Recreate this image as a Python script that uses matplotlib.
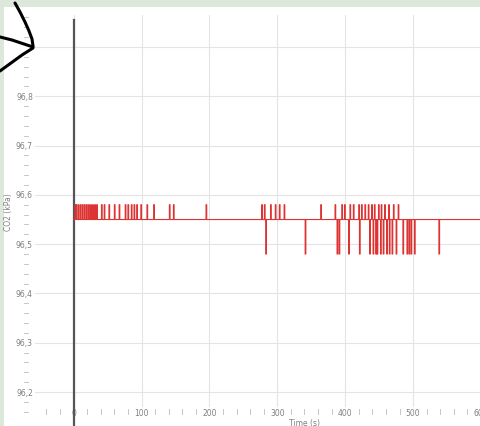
import numpy as np
import matplotlib
matplotlib.use("Agg")
import matplotlib.pyplot as plt
from matplotlib.lines import Line2D
from matplotlib.patches import Rectangle

# CO2 sensor readings: steady level with short one-sample jumps
base_kpa = 96.55
high_kpa = 96.58
low_kpa = 96.48
duration_s = 600
up_times = [2, 4, 7, 10, 13, 16, 19, 22, 25, 28, 31, 34, 41, 45, 52, 60, 67, 76,
            80, 85, 89, 93, 99, 108, 118, 141, 147, 195, 277, 281, 290, 297, 303,
            310, 364, 385, 395, 399, 407, 412, 420, 424, 429, 434, 439, 443, 449,
            453, 458, 464, 471, 478]
down_times = [283, 341, 388, 391, 405, 421, 436, 441, 445, 447, 452, 456, 461,
              465, 469, 475, 485, 491, 494, 497, 502, 538]

x_major = [0, 100, 200, 300, 400, 500, 600]
y_major = [96.2, 96.3, 96.4, 96.5, 96.6, 96.7, 96.8, 96.9]
y_labels = ["96,2", "96,3", "96,4", "96,5", "96,6", "96,7", "96,8", ""]

t = np.arange(duration_s + 1)
co2 = np.full(t.shape, base_kpa)
co2[up_times] = high_kpa
co2[down_times] = low_kpa

W, H = 481, 426
fig = plt.figure(figsize=(W / 100, H / 100), dpi=100)
fig.patch.set_facecolor("#dce8da")
fig.patches.append(Rectangle((4 / W, 0), 1, 1 - 7 / H, transform=fig.transFigure,
                             facecolor="white", edgecolor="none", zorder=-5))

ax = fig.add_axes([35 / W, (H - 407) / H, (W - 35) / W, (407 - 15) / H])
ax.set_facecolor("none")
for s in ax.spines.values():
    s.set_visible(False)

ax.set_xlim(-56.9, 593.3)
ax.set_ylim(96.1696, 96.965)

grey = "#808080"
ax.set_xticks(x_major)
ax.set_xticklabels([str(v) for v in x_major], fontsize=5.5, color=grey)
ax.set_yticks(y_major)
ax.set_yticklabels(y_labels, fontsize=5.5, color=grey)
ax.tick_params(length=0, pad=1.5)
for lab in ax.get_xticklabels():
    lab.set_clip_on(False)
ax.grid(True, color="#e4e4e4", lw=0.8)
ax.set_axisbelow(True)

# small minor ticks sitting in the label rows
for v in np.arange(96.16, 96.97, 0.02):
    if min(abs(v - m) for m in y_major) < 1e-6:
        continue
    ax.plot([-0.0247, -0.0157], [v, v], transform=ax.get_yaxis_transform(),
            color="#bdbdbd", lw=0.6, clip_on=False)
for v in range(-40, 600, 20):
    if v % 100 == 0:
        continue
    ax.plot([v, v], [-0.004, -0.018], transform=ax.get_xaxis_transform(),
            color="#bdbdbd", lw=0.6, clip_on=False)

# start marker at t = 0
ax.plot([0, 0], [96.955, 96.1], color="#555555", lw=1.6, clip_on=False, zorder=3)

ax.step(t, co2, where="post", color="#dd3333", lw=0.8, zorder=4)

fig.text(9 / W, 1 - 212 / H, "CO2 (kPa)", rotation=90, fontsize=5.5, color=grey,
         ha="center", va="center")
fig.text(305 / W, 1 - 419 / H, "Time (s)", fontsize=5.5, color=grey,
         ha="center", va="top")

# hand-drawn arrow in the corner
def stroke(px, py):
    fig.lines.append(Line2D(np.array(px) / W, 1 - np.array(py) / H,
                            transform=fig.transFigure, color="black", lw=2.2,
                            solid_capstyle="round", zorder=10))

stroke([15, 20, 25, 29, 32, 33], [3, 12, 22, 31, 39, 46])
stroke([0, 12, 24, 33], [37, 40, 44, 47])
stroke([33, 22, 11, 0], [48, 55, 63, 71])

fig.savefig("out.png", dpi=100, facecolor=fig.get_facecolor())
